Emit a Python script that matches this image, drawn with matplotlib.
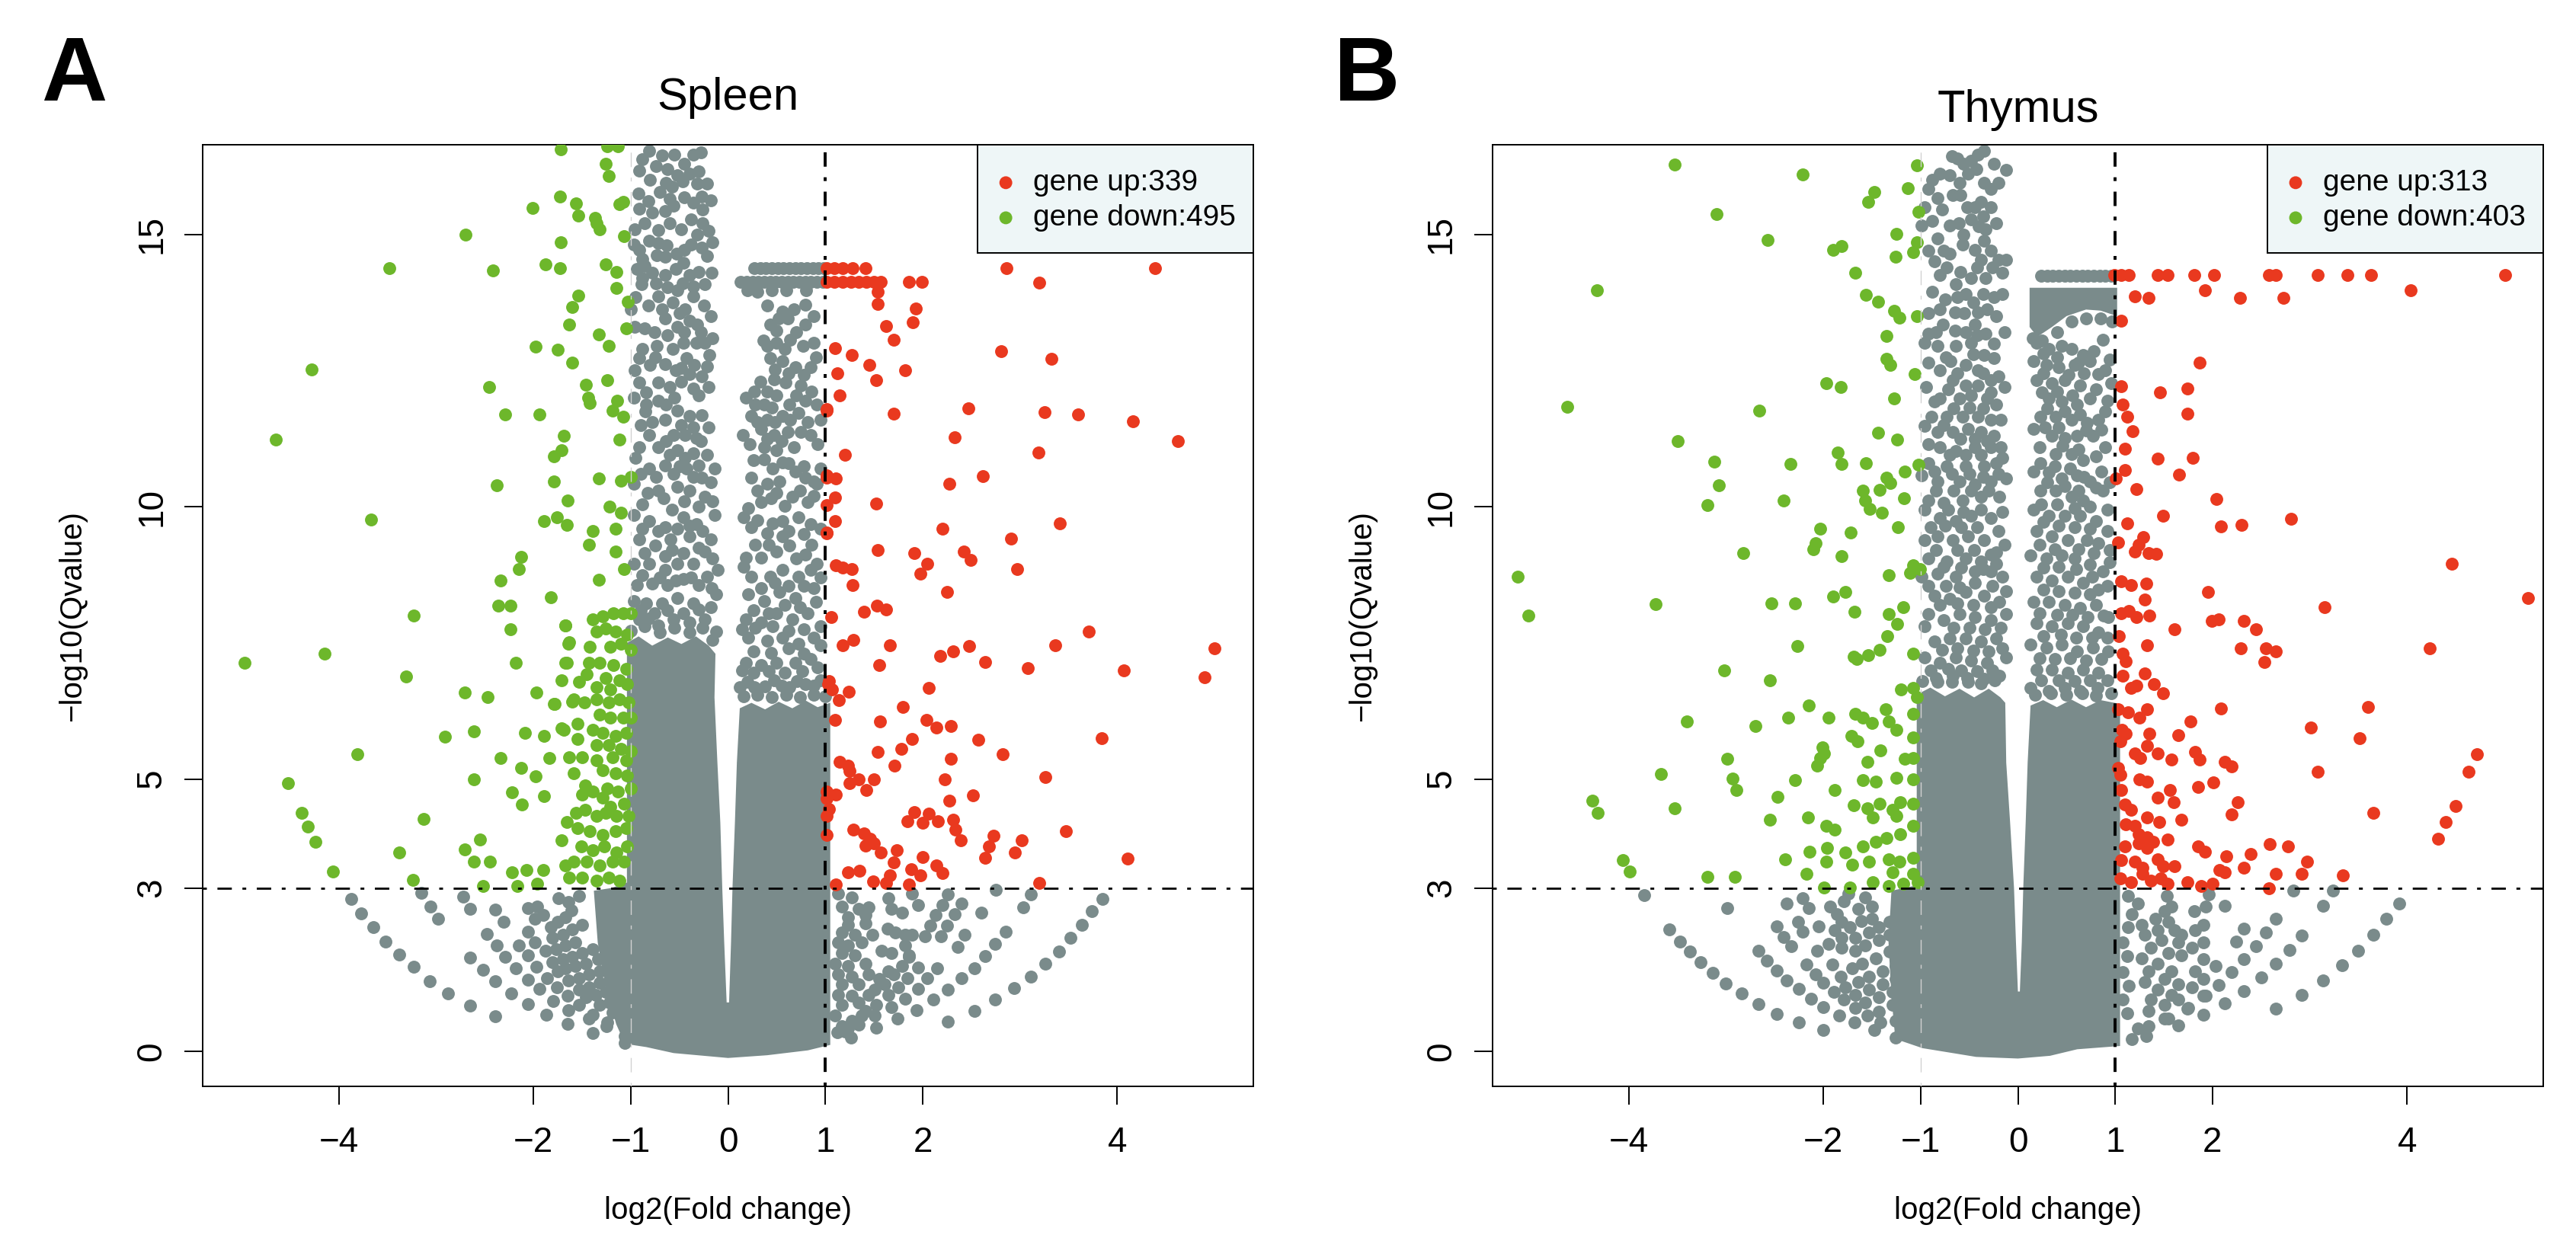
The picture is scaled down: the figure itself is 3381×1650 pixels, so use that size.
import numpy as np
import matplotlib
matplotlib.use('Agg')
import matplotlib.pyplot as plt
from matplotlib.patches import Rectangle

plt.rcParams['font.family'] = ['Liberation Sans', 'DejaVu Sans']
plt.rcParams['lines.scale_dashes'] = False

RED = '#E9391F'
GREEN = '#6DB72B'
GREY = '#7A8B8B'
DOT = 37

# ---------------- Spleen (panel A) ----------------
spleen_counts = (339, 495)

spleen_up = [
    (1.01,14.38),(1.09,14.38),(1.18,14.38),(1.28,14.38),(1.41,14.38),(2.86,14.38),(4.39,14.38),
    (1.01,14.13),(1.09,14.13),(1.18,14.13),(1.26,14.13),(1.34,14.13),(1.42,14.13),(1.50,14.13),
    (1.57,14.13),(1.86,14.13),(1.99,14.13),(3.20,14.12),
    (1.54,13.94),(1.54,13.72),(1.93,13.64),(1.90,13.39),(1.62,13.32),(1.70,13.07),(1.10,12.91),
    (1.27,12.79),(2.81,12.86),(3.32,12.72),(1.45,12.60),(1.12,12.45),(1.52,12.32),(1.82,12.51),
    (1.15,12.04),(1.01,11.79),(1.70,11.71),(2.47,11.80),(3.25,11.73),(3.60,11.70),(4.16,11.57),
    (4.62,11.20),(2.33,11.27),(1.20,10.96),(3.19,10.99),(1.01,10.58),(1.11,10.52),(2.62,10.56),
    (2.27,10.42),(1.10,10.17),(1.01,10.03),(1.52,10.06),(1.10,9.74),(1.01,9.52),(2.20,9.59),
    (3.41,9.69),(2.91,9.42),(1.54,9.21),(1.91,9.15),(2.42,9.18),(2.49,9.03),(2.05,8.96),
    (1.98,8.77),(2.97,8.86),(1.11,8.93),(1.18,8.89),(1.27,8.86),(1.28,8.56),(2.25,8.44),
    (1.53,8.18),(1.62,8.12),(1.40,8.07),(1.06,7.97),(3.71,7.71),(3.36,7.46),(2.48,7.44),
    (2.31,7.34),(2.18,7.26),(5.00,7.40),(1.66,7.46),(1.18,7.46),(1.29,7.56),(1.55,7.09),
    (2.64,7.15),(3.08,7.04),(4.07,7.00),(4.90,6.87),(1.04,6.80),(1.07,6.65),(1.14,6.45),
    (1.24,6.60),(2.06,6.67),(1.80,6.32),(2.04,6.09),(2.14,5.94),(2.29,5.97),(1.56,6.06),
    (1.10,6.09),(3.84,5.75),(2.57,5.72),(1.89,5.73),(1.78,5.55),(2.82,5.45),(2.29,5.38),
    (1.54,5.50),(1.15,5.32),(1.23,5.25),(1.25,5.15),(1.71,5.25),(3.26,5.04),(2.23,4.99),
    (1.34,5.00),(1.25,4.93),(1.50,5.00),(1.42,4.80),(1.11,4.72),(1.01,4.64),(1.04,4.45),
    (2.52,4.70),(2.27,4.61),(1.91,4.39),(2.06,4.36),(1.84,4.22),(2.00,4.20),(2.16,4.23),
    (2.31,4.25),(2.34,4.07),(2.39,3.88),(3.47,4.04),(3.02,3.88),(2.73,3.96),(2.68,3.76),
    (2.95,3.65),(2.64,3.55),(1.40,4.00),(1.46,3.90),(1.41,3.78),(1.50,3.82),(1.29,4.07),
    (1.57,3.65),(1.73,3.69),(1.70,3.47),(2.00,3.57),(2.14,3.42),(2.20,3.28),(4.11,3.54),
    (1.23,3.29),(1.35,3.32),(1.49,3.12),(1.66,3.24),(1.88,3.34),(1.98,3.24),(1.11,3.06),
    (1.86,3.06),(1.62,3.09),(3.20,3.09),(1.01,11.77),(1.01,10.53),(1.01,9.51),(1.03,6.75),
    (1.01,4.77),(1.01,4.32),(1.01,3.98),
]

spleen_down = [
    (-1.72,16.56),(-1.24,16.62),(-1.13,16.62),(-1.26,16.30),(-1.23,16.07),(-1.12,15.56),
    (-1.08,15.60),(-1.73,15.70),(-2.01,15.49),(-1.56,15.57),(-1.54,15.34),(-1.37,15.30),
    (-1.32,15.10),(-1.35,15.20),(-1.07,14.97),(-2.70,15.00),(-1.72,14.85),(-3.48,14.38),
    (-2.42,14.34),(-1.88,14.45),(-1.73,14.38),(-1.26,14.45),(-1.15,14.31),(-1.15,14.01),
    (-1.03,13.76),(-1.60,13.67),(-1.54,13.87),(-1.63,13.35),(-1.33,13.16),(-1.05,13.27),
    (-1.23,12.95),(-1.98,12.94),(-1.75,12.88),(-1.60,12.64),(-4.28,12.52),(-2.46,12.20),
    (-1.46,12.24),(-1.44,12.00),(-1.42,11.90),(-1.24,12.32),(-1.14,11.95),(-2.29,11.70),
    (-1.94,11.70),(-1.19,11.76),(-1.08,11.65),(-1.69,11.30),(-4.65,11.23),(-1.12,11.24),
    (-1.71,11.04),(-1.79,10.92),(-2.38,10.40),(-1.33,10.52),(-1.10,10.48),(-1.00,10.55),
    (-1.79,10.46),(-1.65,10.11),(-1.22,10.00),(-1.10,9.89),(-3.67,9.77),(-1.89,9.74),
    (-1.76,9.81),(-1.66,9.67),(-1.16,9.59),(-1.39,9.55),(-1.43,9.30),(-2.13,9.08),
    (-2.15,8.86),(-1.16,9.18),(-1.07,8.86),(-2.34,8.65),(-1.33,8.66),(-1.82,8.34),
    (-2.36,8.19),(-2.24,8.19),(-3.23,8.00),(-1.67,7.82),(-2.24,7.75),(-1.64,7.48),
    (-4.15,7.31),(-4.97,7.13),(-2.18,7.13),(-1.67,7.14),(-3.31,6.88),(-2.71,6.59),
    (-2.47,6.50),(-1.97,6.59),(-1.78,6.38),(-1.60,6.42),(-1.69,5.90),(-2.91,5.78),
    (-2.61,5.88),(-2.09,5.85),(-1.89,5.79),(-2.34,5.39),(-3.81,5.45),(-1.84,5.39),
    (-2.13,5.20),(-4.52,4.92),(-2.61,5.00),(-1.98,5.05),(-2.22,4.76),(-1.89,4.69),
    (-2.12,4.54),(-4.38,4.38),(-3.13,4.27),(-4.32,4.13),(-4.24,3.85),(-2.55,3.89),
    (-2.71,3.71),(-3.38,3.65),(-2.45,3.48),(-2.61,3.48),(-4.06,3.30),(-2.22,3.29),
    (-2.07,3.33),(-1.90,3.33),(-3.24,3.15),(-2.52,3.04),(-2.17,3.04),(-1.96,3.08),
    (-1.39,7.93),(-1.29,7.99),(-1.18,8.05),(-1.08,8.05),(-1.00,8.05),(-1.67,7.82),
    (-1.35,7.71),(-1.26,7.77),(-1.16,7.71),(-1.04,7.65),(-1.63,7.51),(-1.42,7.43),
    (-1.21,7.43),(-1.10,7.48),(-1.00,7.37),(-1.66,7.14),(-1.43,7.14),(-1.32,7.14),
    (-1.18,7.09),(-1.05,7.03),(-1.45,6.92),(-1.26,6.86),(-1.12,6.81),(-1.04,6.75),
    (-1.71,6.81),(-1.53,6.78),(-1.35,6.69),(-1.21,6.64),(-1.59,6.47),(-1.48,6.41),
    (-1.35,6.47),(-1.23,6.41),(-1.12,6.47),(-1.02,6.41),(-1.79,6.38),(-1.32,6.18),
    (-1.21,6.13),(-1.08,6.13),(-1.00,6.13),(-1.71,5.93),(-1.55,6.02),(-1.39,5.90),
    (-1.29,5.85),(-1.16,5.79),(-1.05,5.85),(-1.55,5.73),(-1.35,5.62),(-1.23,5.62),
    (-1.10,5.56),(-1.00,5.51),(-1.63,5.40),(-1.50,5.40),(-1.35,5.34),(-1.19,5.40),
    (-1.05,5.34),(-1.59,5.11),(-1.29,5.17),(-1.16,5.11),(-1.04,5.06),(-1.47,4.89),
    (-1.39,4.77),(-1.24,4.83),(-1.13,4.77),(-1.00,4.83),(-1.50,4.72),(-1.29,4.66),
    (-1.21,4.49),(-1.07,4.55),(-1.66,4.21),(-1.56,4.38),(-1.47,4.44),(-1.35,4.32),
    (-1.26,4.38),(-1.15,4.32),(-1.02,4.32),(-1.55,4.10),(-1.42,4.04),(-1.29,3.98),
    (-1.16,4.04),(-1.05,4.10),(-1.51,3.76),(-1.39,3.70),(-1.27,3.76),(-1.15,3.65),
    (-1.04,3.76),(-1.59,3.48),(-1.45,3.48),(-1.32,3.42),(-1.19,3.48),(-1.07,3.48),
    (-1.63,3.19),(-1.50,3.19),(-1.35,3.14),(-1.23,3.19),(-1.12,3.14),(-1.67,3.42),
    (-1.71,3.87),
]

spleen_grey = [
    # left column
    (-0.91,16.17),(-0.81,16.53),(-0.74,16.25),(-0.62,16.20),(-0.55,16.47),(-0.36,16.47),
    (-0.70,15.78),(-0.64,15.95),(-0.52,16.08),(-0.40,16.12),(-0.32,15.93),(-0.22,15.93),
    (-0.27,15.70),(-0.82,15.61),(-0.91,15.47),(-0.65,15.43),(-0.56,15.52),(-0.26,15.46),
    (-0.96,15.10),(-0.97,14.82),(-0.91,14.71),(-0.81,14.88),(-0.72,14.84),(-0.65,14.59),
    (-0.73,14.62),(-0.94,14.37),(-0.86,14.42),(-0.88,14.20),(-0.65,14.25),(-0.54,14.37),
    (-0.46,14.48),(-0.38,14.82),(-0.32,14.99),(-0.20,15.07),(-0.27,14.76),(-0.40,14.25),
    (-0.30,14.31),(-0.24,14.09),(-0.52,13.97),(-0.62,14.03),(-0.72,13.86),(-0.89,14.09),
    (-0.44,13.63),(-0.36,13.86),(-0.57,13.75),(-1.00,13.63),(-0.86,13.28),(-0.65,13.46),
    (-0.52,13.30),(-0.40,13.41),(-0.32,13.35),(-0.24,13.01),(-0.19,12.79),(-0.33,13.01),
    (-0.46,13.01),(-0.57,12.90),(-0.73,12.96),(-0.88,12.90),(-0.91,12.73),(-0.65,12.62),
    (-0.54,12.51),(-0.72,12.28),(-0.91,12.28),(-0.40,12.43),(-0.27,12.39),(-0.43,12.73),
    (-0.36,12.17),(-0.97,12.00),(-0.84,11.88),(-0.72,11.94),(-0.64,11.88),(-0.52,11.77),
    (-0.40,11.66),(-0.27,11.68),(-0.65,11.60),(-0.56,11.32),(-0.44,11.32),(-0.33,11.26),
    (-0.81,11.32),(-0.91,11.09),(-0.72,11.09),(-0.52,11.04),(-0.36,10.98),(-0.14,10.70),
    (-0.81,10.70),(-0.65,10.76),(-0.43,10.70),(-0.30,10.76),(-0.27,10.53),(-0.97,10.42),
    (-0.83,10.25),(-0.72,10.30),(-0.52,10.36),(-0.40,10.30),(-0.24,10.19),(-0.97,9.85),
    (-0.81,9.74),(-0.65,9.63),(-0.46,9.80),(-0.33,9.68),(-0.14,9.85),(-0.91,9.40),
    (-0.75,9.29),(-0.59,9.40),(-0.40,9.46),(-0.24,9.18),(-0.97,8.95),(-0.81,8.95),
    (-0.65,8.84),(-0.52,8.95),(-0.36,8.95),(-0.11,8.84),(-0.94,8.56),(-0.78,8.59),
    (-0.62,8.56),(-0.46,8.67),(-0.30,8.56),(-0.17,8.50),(-0.97,8.27),(-0.84,8.22),
    (-0.68,8.22),(-0.52,8.33),(-0.36,8.22),(-0.91,7.93),(-0.72,7.82),(-0.56,7.93),
    (-0.40,7.88),(-0.24,7.93),(-0.12,7.71),
    (-1.00,7.72),(-0.86,7.80),(-0.70,7.70),(-0.55,7.78),(-0.40,7.70),(-0.26,7.78),(-0.16,7.55),
    (-0.88,16.38),(-0.68,16.45),(-0.45,16.30),(-0.28,16.50),(-0.80,16.00),(-0.58,15.88),
    (-0.47,15.98),(-0.30,16.15),(-0.92,15.75),(-0.78,15.40),(-0.60,15.65),(-0.45,15.68),
    (-0.36,15.58),(-0.18,15.62),(-0.86,15.20),(-0.72,15.08),(-0.60,15.20),(-0.48,15.10),
    (-0.38,15.28),(-0.26,15.20),(-0.88,14.55),(-0.63,14.80),(-0.53,14.65),(-0.45,14.72),
    (-0.22,14.60),(-0.16,14.85),(-0.78,14.30),(-0.74,14.10),(-0.47,14.10),(-0.36,14.05),
    (-0.17,14.30),(-0.95,13.85),(-0.82,13.70),(-0.68,13.62),(-0.50,13.55),(-0.25,13.70),
    (-0.18,13.50),(-0.96,13.30),(-0.76,13.20),(-0.62,13.15),(-0.45,13.20),(-0.28,13.20),
    (-0.16,13.10),(-0.80,12.60),(-0.75,12.75),(-0.48,12.55),(-0.35,12.60),(-0.22,12.58),
    (-0.96,12.50),(-0.84,12.10),(-0.60,12.20),(-0.48,12.30),(-0.30,12.05),(-0.20,12.20),
    (-0.55,12.00),(-0.90,11.50),(-0.78,11.55),(-0.48,11.50),(-0.36,11.45),(-0.20,11.45),
    (-0.85,11.75),(-0.95,10.90),(-0.64,11.20),(-0.60,10.95),(-0.44,10.90),(-0.22,10.95),
    (-0.28,11.20),(-0.90,10.60),(-0.74,10.55),(-0.56,10.60),(-0.36,10.55),(-0.18,10.45),
    (-0.50,10.75),(-0.88,10.05),(-0.66,10.15),(-0.58,9.95),(-0.30,10.00),(-0.16,10.10),
    (-0.45,10.10),(-0.88,9.60),(-0.72,9.55),(-0.52,9.60),(-0.26,9.55),(-0.18,9.40),
    (-0.40,9.65),(-0.86,9.15),(-0.65,9.10),(-0.46,9.15),(-0.30,9.25),(-0.16,9.05),
    (-0.58,9.20),(-0.88,8.75),(-0.70,8.70),(-0.54,8.65),(-0.38,8.70),(-0.22,8.72),
    (-0.12,8.40),(-0.90,8.10),(-0.76,8.05),(-0.62,8.10),(-0.46,8.05),(-0.30,8.12),
    (-0.18,8.15),(-0.82,7.95),
    # right column: two flat rows at the top
    (0.27,14.38),(0.33,14.38),(0.39,14.38),(0.45,14.38),(0.51,14.38),(0.57,14.38),(0.63,14.38),
    (0.69,14.38),(0.75,14.38),(0.81,14.38),(0.87,14.38),(0.93,14.38),(0.98,14.38),
    (0.13,14.13),(0.19,14.13),(0.25,14.13),(0.31,14.13),(0.37,14.13),(0.43,14.13),(0.49,14.13),
    (0.55,14.13),(0.61,14.13),(0.67,14.13),(0.73,14.13),(0.79,14.13),(0.85,14.13),(0.91,14.13),
    (0.97,14.13),(0.20,13.98),(0.30,13.95),(0.45,13.98),(0.60,13.97),(0.80,13.98),
    (0.79,13.71),(0.40,13.69),(0.56,13.58),(0.43,13.35),(0.50,13.24),(0.61,13.46),(0.79,13.35),
    (0.40,12.96),(0.50,13.01),(0.64,13.07),(0.77,12.96),(0.88,13.01),(0.43,12.73),(0.56,12.67),
    (0.69,12.56),(0.85,12.56),(0.47,12.34),(0.59,12.28),(0.75,12.22),(0.40,12.11),(0.18,12.00),
    (0.27,12.11),(0.37,11.88),(0.50,12.05),(0.63,11.88),(0.79,11.94),(0.91,11.88),(0.24,11.66),
    (0.40,11.60),(0.56,11.66),(0.72,11.72),(0.15,11.32),(0.34,11.43),(0.47,11.32),(0.61,11.38),
    (0.75,11.38),(0.85,11.32),(0.37,11.09),(0.50,11.04),(0.56,10.81),(0.37,10.87),(0.69,10.64),
    (0.79,10.53),(0.24,10.53),(0.40,10.42),(0.53,10.47),(0.88,10.47),(0.21,9.97),(0.34,10.08),
    (0.50,10.25),(0.66,10.19),(0.82,10.08),(0.91,10.42),(0.24,9.63),(0.40,9.51),(0.56,9.74),
    (0.72,9.80),(0.85,9.68),(0.18,9.06),(0.34,9.06),(0.50,9.18),(0.63,9.29),(0.79,9.12),
    (0.91,8.95),(0.24,8.72),(0.43,8.72),(0.56,8.84),(0.72,8.72),(0.85,8.84),(0.21,8.39),
    (0.37,8.27),(0.53,8.44),(0.69,8.33),(0.88,8.50),(0.18,7.93),(0.34,7.88),(0.50,8.05),
    (0.66,7.93),(0.82,8.05),(0.21,7.60),(0.40,7.54),(0.56,7.60),(0.72,7.48),(0.88,7.60),
    (0.18,7.14),(0.34,7.09),(0.50,7.14),(0.69,7.14),(0.85,7.20),(0.12,6.69),(0.27,6.69),
    (0.47,6.81),(0.63,6.69),(0.79,6.75),(0.95,6.81),
    (0.16,6.52),(0.30,6.55),(0.45,6.50),(0.60,6.55),(0.74,6.50),(0.88,6.55),(1.00,6.52),
    (0.68,13.62),(0.88,13.50),(0.52,13.45),(0.70,13.20),(0.36,13.05),(0.58,12.90),(0.90,12.75),
    (0.48,12.52),(0.62,12.45),(0.78,12.42),(0.33,12.30),(0.28,11.88),(0.45,11.82),(0.70,12.05),
    (0.86,12.12),(0.30,11.55),(0.48,11.55),(0.64,11.60),(0.82,11.55),(0.95,11.60),(0.22,11.15),
    (0.40,11.25),(0.55,11.20),(0.68,11.10),(0.92,11.15),(0.26,10.85),(0.46,10.70),(0.62,10.80),
    (0.78,10.75),(0.95,10.70),(0.30,10.30),(0.44,10.15),(0.58,10.02),(0.74,10.30),(0.88,10.20),
    (0.16,9.80),(0.30,9.75),(0.46,9.70),(0.62,9.55),(0.78,9.50),(0.95,9.60),(0.28,9.30),
    (0.42,9.30),(0.56,9.45),(0.70,9.05),(0.86,9.30),(0.16,8.90),(0.34,8.50),(0.48,8.60),
    (0.62,8.55),(0.78,8.55),(0.95,8.70),(0.26,8.10),(0.42,8.05),(0.58,8.20),(0.74,8.15),
    (0.90,8.25),(0.14,7.75),(0.28,7.78),(0.46,7.80),(0.62,7.72),(0.78,7.75),(0.95,7.80),
    (0.26,7.35),(0.44,7.32),(0.62,7.40),(0.78,7.30),(0.95,7.45),(0.14,7.00),(0.26,6.95),
    (0.42,6.98),(0.58,6.95),(0.76,6.98),(0.92,7.05),(0.20,6.78),(0.38,6.70),(0.55,6.72),
    (0.71,6.80),(0.88,6.72),
    # bottom-left arcs
    (-3.87,2.80),(-3.77,2.53),(-3.65,2.28),(-3.52,2.02),(-3.38,1.78),(-3.23,1.55),(-3.07,1.29),
    (-2.88,1.07),(-2.65,0.84),(-2.39,0.64),(-3.15,2.91),(-3.06,2.66),(-2.98,2.43),(-2.65,1.72),
    (-2.52,1.50),(-2.39,1.29),(-2.23,1.07),(-2.06,0.87),(-1.87,0.67),(-1.65,0.51),(-1.39,0.34),
    (-1.06,0.15),(-2.72,2.84),(-2.65,2.62),(-2.39,2.60),(-2.31,2.38),(-2.48,2.15),(-2.38,1.95),
    (-2.29,1.73),(-2.18,1.53),(-2.06,1.32),(-1.94,1.15),(-1.80,0.93),(-1.64,0.76),(-1.43,0.61),
    (-1.25,0.47),(-1.06,0.28),(-2.06,2.63),(-1.96,2.66),(-1.99,2.43),(-1.90,2.50),(-2.06,2.20),
    (-1.99,2.00),(-2.15,1.95),(-2.06,1.76),(-1.97,1.56),(-1.86,1.35),(-1.76,1.18),(-1.65,1.02),
    (-1.53,0.85),(-1.39,0.68),(-1.24,0.54),(-1.82,2.28),(-1.75,2.38),(-1.67,2.47),(-1.74,2.81),
    (-1.64,2.74),(-1.61,2.59),(-1.53,2.86),(-1.81,2.09),(-1.70,2.14),(-1.60,2.24),(-1.50,2.33),
    (-1.88,1.85),(-1.77,1.88),(-1.67,1.95),(-1.57,2.00),(-1.81,1.64),(-1.70,1.69),(-1.60,1.73),
    (-1.50,1.81),(-1.39,1.88),(-1.75,1.47),(-1.67,1.52),(-1.57,1.57),(-1.46,1.61),(-1.34,1.69),
    (-1.64,1.30),(-1.53,1.35),(-1.43,1.42),(-1.32,1.47),(-1.53,1.14),(-1.43,1.18),(-1.32,1.26),
    (-1.46,0.99),(-1.36,1.04),(-1.26,1.09),(-1.32,0.85),(-1.22,0.90),(-1.15,0.99),(-1.19,0.71),
    (-1.12,0.75),
    # bottom-right arcs
    (3.85,2.80),(3.74,2.57),(3.64,2.32),(3.52,2.08),(3.40,1.84),(3.26,1.61),(3.11,1.38),
    (2.94,1.16),(2.74,0.95),(2.53,0.74),(2.26,0.55),(3.11,2.88),(3.03,2.64),(2.85,2.20),
    (2.74,1.97),(2.64,1.75),(2.53,1.53),(2.40,1.34),(2.26,1.14),(2.11,0.95),(1.94,0.76),
    (1.74,0.60),(1.52,0.43),(1.26,0.26),(2.75,2.97),(2.60,2.55),(2.43,2.14),(2.36,1.92),
    (2.15,1.53),(2.05,1.34),(1.95,1.15),(1.82,0.97),(1.68,0.81),(1.51,0.66),(1.34,0.49),
    (1.12,0.35),(2.26,2.88),(2.20,2.69),(2.40,2.71),(2.33,2.52),(2.13,2.50),(2.25,2.31),
    (2.08,2.31),(2.19,2.12),(2.02,2.12),(1.95,1.54),(1.86,1.73),(1.79,1.57),(1.84,1.35),
    (1.75,1.18),(1.65,1.04),(1.52,0.85),(1.41,0.75),(1.27,0.56),(1.89,2.90),(1.95,2.69),
    (1.79,2.55),(1.65,2.81),(1.68,2.62),(1.64,2.26),(1.72,2.19),(1.82,2.14),(1.89,2.14),
    (1.82,1.95),(1.58,1.85),(1.68,1.81),(1.86,1.76),(1.65,1.47),(1.55,1.33),(1.70,1.42),
    (1.61,1.23),(1.51,1.14),(1.44,1.04),(1.34,0.90),(1.37,0.66),(1.23,0.42),(1.13,2.90),
    (1.27,2.83),(1.17,2.66),(1.34,2.62),(1.44,2.64),(1.23,2.47),(1.41,2.50),(1.23,2.33),
    (1.41,2.35),(1.17,2.19),(1.30,2.14),(1.48,2.14),(1.13,2.00),(1.23,1.95),(1.37,2.00),
    (1.17,1.81),(1.30,1.76),(1.10,1.61),(1.23,1.57),(1.41,1.61),(1.13,1.42),(1.27,1.38),
    (1.44,1.42),(1.17,1.23),(1.34,1.23),(1.13,1.04),(1.27,1.02),(1.17,0.85),(1.10,0.66),
    (1.17,0.47),(1.20,0.37),
]

# outline of the solid grey mass in the middle
spleen_core = [
    (-1.04,7.50),(-0.92,7.62),(-0.78,7.45),(-0.62,7.60),(-0.48,7.48),(-0.33,7.62),(-0.20,7.45),
    (-0.13,7.30),(-0.14,6.50),(-0.11,5.30),(-0.08,4.20),(-0.06,3.00),(-0.04,2.00),(-0.015,0.90),
    (0.01,0.90),(0.03,2.00),(0.045,3.00),(0.07,4.20),(0.09,5.30),(0.12,6.30),(0.24,6.40),
    (0.38,6.28),(0.52,6.42),(0.66,6.30),(0.80,6.44),(0.92,6.32),(1.05,6.40),(1.05,0.12),
    (0.82,0.02),(0.40,-0.07),(0.00,-0.12),(-0.56,-0.03),(-0.84,0.08),(-1.06,0.14),(-1.15,0.50),
    (-1.26,1.20),(-1.34,2.00),(-1.38,2.95),(-1.20,3.00),(-1.04,3.10),
]
spleen_blocks = []

# ---------------- Thymus (panel B) ----------------
thymus_counts = (313, 403)

thymus_up = [
    (0.99,14.26),(1.06,14.26),(1.14,14.26),(1.44,14.26),(1.54,14.26),(1.81,14.26),(2.02,14.26),
    (2.58,14.26),(2.65,14.26),(3.08,14.26),(3.39,14.26),(3.63,14.26),(5.01,14.26),
    (1.92,13.98),(1.20,13.86),(1.34,13.84),(2.28,13.84),(2.73,13.84),(4.04,13.98),(1.06,13.41),
    (1.87,12.64),(1.06,12.21),(1.08,11.88),(1.12,11.65),(1.46,12.10),(1.74,12.17),(1.74,11.71),
    (1.18,11.39),(1.10,11.07),(1.44,10.89),(1.80,10.90),(1.10,10.68),(1.66,10.59),(1.01,10.52),
    (1.22,10.33),(2.04,10.14),(1.49,9.84),(2.81,9.78),(2.09,9.64),(2.30,9.67),(1.12,9.70),
    (1.29,9.44),(1.03,9.34),(1.24,9.30),(1.20,9.18),(1.34,9.15),(1.42,9.13),(4.46,8.96),
    (1.06,8.63),(1.16,8.56),(1.32,8.59),(1.95,8.44),(1.30,8.30),(5.24,8.32),(3.15,8.16),
    (1.06,8.04),(1.14,8.09),(1.22,7.97),(1.35,8.00),(1.99,7.90),(2.06,7.93),(2.32,7.90),
    (2.45,7.75),(1.61,7.75),(1.04,7.63),(1.33,7.46),(2.29,7.40),(2.55,7.40),(2.65,7.35),
    (4.23,7.40),(2.53,7.15),(1.08,7.31),(1.11,7.16),(1.30,6.94),(1.08,6.90),(1.40,6.75),
    (1.16,6.67),(1.22,6.72),(1.49,6.57),(3.60,6.32),(2.09,6.29),(1.03,6.28),(1.13,6.23),
    (1.33,6.28),(1.25,6.13),(1.77,6.06),(1.65,5.81),(3.01,5.95),(1.07,5.91),(1.11,5.83),
    (1.05,5.69),(1.35,5.83),(1.33,5.61),(3.51,5.75),(1.20,5.47),(1.26,5.39),(1.44,5.47),
    (1.82,5.50),(1.87,5.36),(4.72,5.45),(1.58,5.36),(2.13,5.32),(2.20,5.23),(1.03,5.20),
    (1.05,5.08),(4.63,5.14),(3.08,5.13),(1.25,5.00),(1.33,4.95),(2.01,4.94),(1.85,4.85),
    (1.56,4.80),(1.06,4.80),(1.44,4.66),(1.60,4.58),(2.26,4.58),(1.10,4.54),(1.16,4.43),
    (4.50,4.51),(1.68,4.26),(3.65,4.38),(2.20,4.35),(1.33,4.29),(1.45,4.21),(4.40,4.21),
    (1.11,4.17),(1.20,4.14),(1.24,3.99),(1.33,3.93),(4.32,3.90),(1.54,3.89),(2.59,3.80),
    (2.78,3.77),(1.85,3.77),(1.92,3.67),(2.14,3.58),(2.39,3.62),(2.97,3.48),(2.32,3.37),
    (1.61,3.40),(2.07,3.33),(2.13,3.29),(2.65,3.26),(2.92,3.26),(3.34,3.23),(2.58,2.99),
    (1.10,3.77),(1.24,3.82),(1.39,3.85),(1.33,3.73),(1.06,3.51),(1.20,3.48),(1.28,3.37),
    (1.44,3.52),(1.49,3.40),(1.05,3.18),(1.16,3.11),(1.28,3.26),(1.37,3.14),(1.47,3.18),
    (1.54,3.08),(1.74,3.11),(1.88,3.04),(2.00,3.08),
]

thymus_down = [
    (-3.53,16.28),(-2.21,16.10),(-1.04,16.27),(-1.13,15.85),(-1.48,15.78),(-1.54,15.59),
    (-1.02,15.41),(-3.10,15.37),(-2.57,14.90),(-1.81,14.79),(-1.90,14.72),(-1.25,15.01),
    (-1.04,14.85),(-1.08,14.67),(-1.26,14.59),(-1.67,14.29),(-4.33,13.98),(-1.56,13.89),
    (-1.44,13.76),(-1.27,13.60),(-1.22,13.47),(-1.04,13.50),(-1.35,13.13),(-1.35,12.72),
    (-1.31,12.61),(-1.06,12.44),(-1.97,12.27),(-1.82,12.20),(-4.63,11.83),(-1.27,11.99),
    (-2.66,11.77),(-1.44,11.36),(-1.24,11.23),(-3.50,11.20),(-1.85,10.99),(-3.12,10.83),
    (-2.34,10.79),(-1.81,10.79),(-1.56,10.80),(-1.02,10.77),(-1.16,10.64),(-3.07,10.39),
    (-1.35,10.54),(-1.31,10.43),(-1.59,10.30),(-1.57,10.11),(-1.42,10.31),(-1.40,9.89),
    (-1.17,10.15),(-3.19,10.03),(-2.41,10.11),(-1.52,9.96),(-2.03,9.59),(-1.72,9.52),
    (-1.23,9.62),(-2.08,9.33),(-2.10,9.22),(-2.82,9.15),(-1.81,9.09),(-1.08,8.93),
    (-1.01,8.86),(-1.11,8.78),(-5.14,8.71),(-1.33,8.75),(-1.90,8.35),(-1.77,8.44),
    (-2.53,8.22),(-2.29,8.22),(-3.72,8.21),(-1.18,8.16),(-1.68,8.07),(-5.03,8.00),
    (-1.33,8.03),(-1.24,7.85),(-1.34,7.63),(-2.27,7.44),(-1.69,7.25),(-1.66,7.21),
    (-1.54,7.28),(-1.42,7.38),(-1.08,7.31),(-3.02,7.00),(-2.55,6.82),(-1.20,6.65),
    (-1.08,6.67),(-1.04,6.50),(-2.15,6.35),(-1.59,6.13),(-1.67,6.20),(-2.36,6.13),
    (-1.95,6.13),(-3.40,6.06),(-2.70,5.98),(-1.71,5.79),(-1.65,5.69),(-2.01,5.58),
    (-1.99,5.47),(-2.03,5.39),(-2.99,5.38),(-2.06,5.25),(-3.67,5.10),(-2.93,5.01),
    (-2.29,4.98),(-2.89,4.80),(-1.88,4.80),(-4.37,4.60),(-2.47,4.67),(-4.32,4.38),
    (-3.53,4.46),(-2.55,4.26),(-2.16,4.29),(-1.97,4.14),(-1.88,4.07),(-2.14,3.67),
    (-2.39,3.52),(-1.97,3.48),(-1.70,3.43),(-1.53,3.48),(-4.06,3.51),(-3.99,3.30),
    (-2.17,3.26),(-2.91,3.21),(-3.19,3.21),(-1.99,3.01),(-1.73,3.01),
    (-1.69,4.52),(-1.55,4.46),(-1.42,4.55),(-1.29,4.43),(-1.21,4.58),(-1.08,4.55),
    (-1.49,4.29),(-1.25,4.32),(-1.08,4.14),(-1.35,3.92),(-1.21,3.99),(-1.96,3.73),
    (-1.77,3.65),(-1.59,3.77),(-1.46,3.85),(-1.33,3.52),(-1.22,3.48),(-1.08,3.55),
    (-1.29,3.29),(-1.08,3.26),(-1.49,3.11),(-1.33,3.04),(-1.18,3.08),(-1.03,3.11),
    (-1.59,4.98),(-1.46,4.95),(-1.25,5.02),(-1.08,4.99),(-1.41,5.53),(-1.16,5.38),
    (-1.55,5.32),(-1.08,5.39),(-1.50,6.03),(-1.33,6.06),(-1.25,5.91),(-1.08,5.76),
    (-1.36,6.28),(-1.08,6.20),
]

thymus_grey = [
    # left column
    (-0.68,16.43),(-0.80,16.12),(-0.70,16.09),(-0.56,16.29),(-0.41,16.46),(-0.35,16.54),
    (-0.51,16.12),(-0.43,16.20),(-0.12,16.18),(-0.28,15.84),(-0.20,15.95),(-0.92,15.84),
    (-0.83,15.67),(-0.67,15.72),(-0.59,15.72),(-0.96,15.50),(-0.44,15.50),(-0.38,15.59),
    (-0.48,15.27),(-0.36,15.33),(-0.99,15.16),(-0.70,15.16),(-0.61,15.21),(-0.33,15.10),
    (-0.83,14.93),(-0.57,14.82),(-0.35,14.88),(-0.44,14.71),(-0.70,14.65),(-0.86,14.50),
    (-0.73,14.39),(-0.59,14.31),(-0.38,14.54),(-0.20,14.54),(-0.12,14.54),(-0.48,14.20),
    (-0.33,14.20),(-0.64,14.08),(-0.16,13.91),(-0.75,13.80),(-0.54,13.91),(-0.36,13.91),
    (-0.80,13.63),(-0.65,13.57),(-0.41,13.57),(-0.32,13.63),(-0.77,13.35),(-0.44,13.35),
    (-0.92,13.18),(-0.65,13.24),(-0.33,13.18),(-0.14,13.21),(-0.96,13.01),(-0.83,12.95),
    (-0.64,12.95),(-0.48,13.01),(-0.35,12.78),(-0.25,12.73),(-0.69,12.67),(-0.54,12.61),
    (-0.80,12.50),(-0.41,12.50),(-0.28,12.33),(-0.20,12.39),(-0.67,12.33),(-0.54,12.22),
    (-0.41,12.22),(-0.80,11.99),(-0.60,11.99),(-0.48,12.05),(-0.32,11.99),(-0.22,11.88),
    (-0.86,11.93),(-0.89,11.65),(-0.73,11.65),(-0.57,11.65),(-0.41,11.65),(-0.28,11.59),
    (-0.96,11.48),(-0.83,11.37),(-0.67,11.37),(-0.51,11.43),(-0.38,11.37),(-0.25,11.31),
    (-0.80,11.09),(-0.64,11.03),(-0.44,11.09),(-0.28,11.09),(-0.92,10.80),(-0.73,10.75),
    (-0.54,10.75),(-0.35,10.75),(-0.22,10.80),(-0.99,10.58),(-0.83,10.46),(-0.60,10.46),
    (-0.44,10.41),(-0.28,10.46),(-0.12,10.52),(-0.92,10.12),(-0.76,10.07),(-0.57,10.12),
    (-0.38,10.18),(-0.19,10.18),(-0.80,9.79),(-0.64,9.73),(-0.48,9.84),(-0.28,9.79),
    (-0.96,9.39),(-0.83,9.45),(-0.67,9.39),(-0.51,9.45),(-0.35,9.39),(-0.22,9.16),
    (-0.92,9.05),(-0.73,8.99),(-0.54,9.05),(-0.38,8.99),(-0.99,8.71),(-0.83,8.77),
    (-0.64,8.71),(-0.44,8.82),(-0.28,8.82),(-0.16,8.71),(-0.86,8.37),(-0.70,8.31),
    (-0.54,8.43),(-0.35,8.37),(-0.19,8.26),(-0.92,8.03),(-0.76,7.92),(-0.60,8.03),
    (-0.44,7.98),(-0.28,7.92),(-0.12,8.03),(-0.86,7.52),(-0.70,7.58),(-0.54,7.58),
    (-0.38,7.52),(-0.22,7.58),(-0.96,7.24),(-0.80,7.13),(-0.64,7.24),(-0.48,7.18),
    (-0.32,7.13),(-0.12,7.24),(-0.83,6.79),(-0.67,6.90),(-0.51,6.79),(-0.35,6.84),
    (-0.19,6.90),
    (-0.98,6.80),(-0.84,6.86),(-0.68,6.78),(-0.52,6.85),(-0.38,6.76),(-0.24,6.82),
    (-0.62,16.40),(-0.48,16.35),(-0.25,16.30),(-0.88,16.00),(-0.60,15.95),(-0.35,15.95),
    (-0.78,15.45),(-0.52,15.50),(-0.28,15.50),(-0.88,15.25),(-0.56,15.00),(-0.40,15.15),
    (-0.22,15.20),(-0.92,14.70),(-0.76,14.70),(-0.28,14.70),(-0.16,14.30),(-0.80,14.25),
    (-0.42,14.40),(-0.26,14.40),(-0.88,13.95),(-0.62,13.85),(-0.46,13.75),(-0.25,13.85),
    (-0.92,13.55),(-0.55,13.55),(-0.22,13.50),(-0.84,13.20),(-0.54,13.20),(-0.42,13.15),
    (-0.25,13.00),(-0.74,12.75),(-0.46,12.80),(-0.92,12.65),(-0.36,12.45),(-0.62,12.45),
    (-0.94,12.20),(-0.72,12.15),(-0.28,12.10),(-0.14,12.20),(-0.66,11.80),(-0.50,11.82),
    (-0.36,11.80),(-0.18,11.60),(-0.76,11.50),(-0.59,11.25),(-0.44,11.25),(-0.32,11.20),
    (-0.18,11.10),(-0.92,11.15),(-0.70,10.95),(-0.54,10.95),(-0.38,10.95),(-0.16,10.90),
    (-0.86,10.65),(-0.68,10.60),(-0.50,10.60),(-0.36,10.55),(-0.20,10.60),(-0.84,10.30),
    (-0.66,10.30),(-0.48,10.30),(-0.30,10.30),(-0.96,9.95),(-0.72,9.95),(-0.56,9.90),
    (-0.38,9.95),(-0.16,9.90),(-0.90,9.62),(-0.75,9.65),(-0.58,9.62),(-0.42,9.62),
    (-0.20,9.55),(-0.84,9.20),(-0.62,9.20),(-0.45,9.20),(-0.28,9.12),(-0.14,9.30),
    (-0.76,8.90),(-0.58,8.88),(-0.36,8.85),(-0.22,8.95),(-0.92,8.55),(-0.74,8.55),
    (-0.60,8.52),(-0.44,8.60),(-0.26,8.55),(-0.12,8.45),(-0.80,8.20),(-0.62,8.22),
    (-0.46,8.20),(-0.28,8.15),(-0.96,7.80),(-0.66,7.78),(-0.50,7.78),(-0.34,7.75),
    (-0.18,7.78),(-0.78,7.38),(-0.62,7.40),(-0.46,7.36),(-0.30,7.34),(-0.16,7.40),
    (-0.90,7.00),(-0.72,7.02),(-0.58,7.00),(-0.42,6.98),(-0.26,7.00),
    # right column: flat row at the top and points under the dense block
    (0.24,14.24),(0.30,14.24),(0.36,14.24),(0.42,14.24),(0.48,14.24),(0.54,14.24),(0.60,14.24),
    (0.66,14.24),(0.72,14.24),(0.78,14.24),(0.84,14.24),(0.90,14.24),(0.96,14.24),
    (0.15,13.10),(0.25,13.05),(0.40,13.20),(0.55,13.40),(0.70,13.45),(0.85,13.45),(0.97,13.40),
    (0.19,13.01),(0.32,12.90),(0.45,12.95),(0.55,12.90),(0.67,12.78),(0.87,13.07),(0.16,12.67),
    (0.29,12.61),(0.42,12.56),(0.58,12.61),(0.74,12.67),(0.83,12.44),(0.19,12.33),(0.35,12.27),
    (0.48,12.33),(0.64,12.22),(0.96,12.27),(0.32,11.99),(0.45,11.93),(0.61,11.88),(0.74,11.99),
    (0.23,11.65),(0.39,11.65),(0.55,11.59),(0.71,11.54),(0.83,11.59),(0.16,11.43),(0.35,11.31),
    (0.48,11.26),(0.61,11.31),(0.77,11.31),(0.39,10.97),(0.55,10.97),(0.67,10.86),(0.80,10.92),
    (0.23,10.80),(0.32,10.63),(0.45,10.52),(0.61,10.58),(0.74,10.46),(0.23,10.29),(0.39,10.29),
    (0.55,10.18),(0.67,10.12),(0.87,10.29),(0.16,9.95),(0.32,9.84),(0.48,9.84),(0.64,9.84),
    (0.80,9.73),(0.19,9.56),(0.35,9.45),(0.51,9.39),(0.71,9.39),(0.83,9.33),(0.13,9.11),
    (0.29,9.05),(0.45,9.11),(0.58,9.05),(0.74,8.94),(0.87,8.82),(0.19,8.71),(0.35,8.65),
    (0.51,8.71),(0.67,8.60),(0.83,8.48),(0.16,8.26),(0.32,8.26),(0.48,8.20),(0.64,8.14),
    (0.80,8.20),(0.93,7.98),(0.19,7.86),(0.35,7.81),(0.51,7.86),(0.67,7.81),(0.83,7.69),
    (0.13,7.47),(0.29,7.41),(0.45,7.47),(0.61,7.35),(0.77,7.41),(0.93,7.35),(0.19,7.01),
    (0.35,7.01),(0.51,6.96),(0.67,7.01),(0.83,6.96),(0.13,6.67),(0.32,6.62),(0.48,6.67),
    (0.64,6.62),(0.82,6.67),
    (0.18,6.55),(0.34,6.58),(0.50,6.55),(0.66,6.58),(0.80,6.54),(0.96,6.58),
    (0.26,12.82),(0.40,12.75),(0.62,12.65),(0.78,12.85),(0.94,12.70),(0.26,12.45),(0.52,12.42),
    (0.68,12.45),(0.90,12.50),(0.25,12.10),(0.40,12.12),(0.56,12.05),(0.80,12.15),(0.92,11.95),
    (0.30,11.80),(0.48,11.75),(0.64,11.70),(0.90,11.75),(0.28,11.45),(0.42,11.45),(0.70,11.40),
    (0.86,11.42),(0.22,11.10),(0.46,11.12),(0.62,11.05),(0.90,11.10),(0.16,10.65),(0.38,10.75),
    (0.54,10.70),(0.68,10.55),(0.86,10.65),(0.30,10.45),(0.48,10.38),(0.62,10.30),(0.80,10.35),
    (0.94,10.45),(0.24,10.05),(0.40,10.05),(0.58,9.98),(0.74,10.00),(0.92,9.95),(0.26,9.72),
    (0.42,9.65),(0.58,9.62),(0.74,9.60),(0.92,9.55),(0.22,9.30),(0.38,9.22),(0.62,9.22),
    (0.78,9.15),(0.94,9.20),(0.26,8.88),(0.42,8.90),(0.60,8.85),(0.76,8.72),(0.94,8.98),
    (0.26,8.48),(0.42,8.45),(0.58,8.42),(0.74,8.40),(0.92,8.55),(0.22,8.05),(0.40,8.02),
    (0.56,8.02),(0.72,7.98),(0.88,8.00),(0.26,7.62),(0.44,7.65),(0.60,7.60),(0.76,7.60),
    (0.92,7.60),(0.22,7.22),(0.38,7.20),(0.54,7.22),(0.70,7.18),(0.86,7.20),(0.24,6.82),
    (0.42,6.82),(0.58,6.80),(0.74,6.82),(0.92,6.82),
    # bottom-left arcs
    (-3.84,2.87),(-3.58,2.24),(-3.47,2.02),(-3.37,1.83),(-3.26,1.64),(-3.14,1.44),(-3.00,1.25),
    (-2.84,1.06),(-2.67,0.87),(-2.48,0.69),(-2.25,0.53),(-2.00,0.39),(-2.99,2.63),(-2.67,1.85),
    (-2.58,1.67),(-2.48,1.49),(-2.38,1.31),(-2.25,1.15),(-2.13,0.97),(-2.00,0.81),(-1.84,0.66),
    (-1.68,0.53),(-1.48,0.39),(-1.26,0.25),(-2.38,2.72),(-2.21,2.81),(-2.15,2.63),(-2.48,2.29),
    (-2.26,2.38),(-2.21,2.20),(-2.05,2.29),(-2.41,2.10),(-2.33,1.93),(-2.06,1.85),(-2.17,1.59),
    (-2.08,1.42),(-2.00,1.26),(-1.89,1.09),(-1.79,0.95),(-1.67,0.80),(-1.55,0.66),(-1.41,0.53),
    (-1.93,2.66),(-1.86,2.52),(-1.79,2.76),(-1.74,2.90),(-1.57,2.83),(-1.64,2.62),(-1.50,2.66),
    (-1.81,2.38),(-1.73,2.28),(-1.61,2.40),(-1.50,2.43),(-1.88,2.23),(-1.81,2.09),(-1.95,1.97),
    (-1.67,2.09),(-1.53,2.19),(-1.43,2.28),(-1.32,2.38),(-1.26,2.47),(-1.81,1.90),(-1.67,1.85),
    (-1.57,1.95),(-1.43,2.04),(-1.32,2.14),(-1.22,2.23),(-1.91,1.59),(-1.82,1.38),(-1.70,1.52),
    (-1.60,1.61),(-1.46,1.71),(-1.32,1.83),(-1.19,1.92),(-1.77,1.18),(-1.64,1.28),(-1.53,1.38),
    (-1.39,1.47),(-1.26,1.57),(-1.67,1.04),(-1.53,1.14),(-1.39,1.23),(-1.26,1.33),(-1.57,0.90),
    (-1.43,0.99),(-1.29,1.09),(-1.43,0.73),(-1.29,0.85),(-1.19,0.95),(-1.26,0.56),(-1.15,0.66),
    (-1.08,0.42),(-1.08,0.75),
    # bottom-right arcs
    (3.92,2.72),(3.79,2.43),(3.65,2.14),(3.50,1.85),(3.33,1.58),(3.14,1.30),(2.92,1.04),
    (2.65,0.79),(3.24,2.96),(3.14,2.67),(2.83,2.96),(2.65,2.44),(2.55,2.18),(2.92,2.13),
    (2.79,1.86),(2.65,1.61),(2.50,1.36),(2.32,1.11),(2.13,0.88),(1.91,0.67),(1.65,0.48),
    (2.13,2.67),(2.32,2.26),(2.24,2.01),(2.45,1.93),(2.32,1.70),(2.20,1.45),(2.06,1.22),
    (1.93,1.02),(1.75,0.80),(1.55,0.61),(1.32,0.28),(1.96,2.88),(1.93,2.66),(1.81,2.57),
    (1.91,2.33),(1.82,2.23),(1.91,2.00),(1.79,1.90),(1.91,1.69),(2.03,1.57),(1.82,1.47),
    (1.91,1.33),(1.79,1.18),(1.91,1.02),(1.65,0.95),(1.74,0.79),(1.53,2.86),(1.58,2.66),
    (1.51,2.57),(1.41,2.43),(1.55,2.38),(1.61,2.23),(1.68,2.14),(1.44,2.23),(1.30,2.14),
    (1.48,2.04),(1.65,2.00),(1.37,1.90),(1.55,1.81),(1.68,1.76),(1.27,1.71),(1.44,1.61),
    (1.58,1.47),(1.34,1.47),(1.51,1.33),(1.65,1.23),(1.30,1.28),(1.44,1.14),(1.58,1.04),
    (1.37,0.95),(1.51,0.85),(1.34,0.75),(1.51,0.61),(1.34,0.47),(1.23,0.42),(1.17,0.23),
    (1.13,2.86),(1.23,2.71),(1.17,2.52),(1.27,2.33),(1.13,2.28),(1.08,2.00),(1.12,1.75),
    (1.08,1.45),(1.14,1.20),(1.08,0.95),(1.12,0.70),
]

thymus_core = [
    (-1.04,6.55),(-0.90,6.68),(-0.75,6.52),(-0.60,6.66),(-0.45,6.50),(-0.30,6.66),(-0.18,6.50),
    (-0.13,6.40),(-0.12,5.30),(-0.08,4.20),(-0.04,3.00),(-0.02,2.00),(0.00,1.10),(0.02,1.10),
    (0.04,2.00),(0.055,3.00),(0.08,4.20),(0.10,5.30),(0.13,6.35),(0.26,6.45),(0.40,6.32),
    (0.55,6.46),(0.70,6.32),(0.85,6.45),(1.05,6.38),(1.05,0.10),(0.61,0.04),(0.33,-0.08),
    (0.00,-0.13),(-0.43,-0.10),(-0.67,-0.03),(-0.98,0.06),(-1.26,0.23),(-1.30,1.00),
    (-1.33,2.00),(-1.30,2.95),(-1.04,3.05),
]
# dense block of points just under the flat row near y = 14
thymus_blocks = [[
    (0.12,14.02),(1.02,14.02),(1.02,13.50),(0.85,13.60),(0.70,13.62),(0.50,13.50),
    (0.35,13.30),(0.20,13.12),(0.12,13.30),
]]

x_ticks = [-4, -2, -1, 0, 1, 2, 4]
x_tick_labels = ['\u22124', '\u22122', '\u22121', '0', '1', '2', '4']
y_ticks = [0, 3, 5, 10, 15]


def xy(pairs):
    a = np.array(pairs, dtype=float)
    return a[:, 0], a[:, 1]


def draw_panel(ax, title, title_y, grey, core, blocks, up, down, counts):
    ax.set_xlim(-5.4, 5.4)
    ax.set_ylim(-0.64, 16.64)

    for poly in [core] + blocks:
        px, py = xy(poly)
        ax.fill(px, py, color=GREY, lw=0, zorder=2)
    gx, gy = xy(grey)
    ax.scatter(gx, gy, s=DOT, c=GREY, lw=0, zorder=2)
    dx, dy = xy(down)
    ax.scatter(dx, dy, s=DOT, c=GREEN, lw=0, zorder=3)
    ux, uy = xy(up)
    ax.scatter(ux, uy, s=DOT, c=RED, lw=0, zorder=3)

    dash = (0, (1.8, 5.0, 6.8, 5.0))
    ax.axhline(3, color='black', lw=1.0, ls=dash, zorder=4)
    ax.axvline(1, color='black', lw=1.4, ls=dash, zorder=4)
    ax.axvline(-1, color='#d2d2d2', lw=0.5, ls=dash, zorder=4)

    ax.set_xticks(x_ticks)
    ax.set_xticklabels(x_tick_labels)
    ax.set_yticks(y_ticks)
    ax.tick_params(axis='both', length=8.6, width=0.7, labelsize=16.5)
    ax.tick_params(axis='x', pad=10.2)
    ax.tick_params(axis='y', pad=7.6)
    for lab in ax.get_yticklabels():
        lab.set_rotation(90)
        lab.set_va('center')
    for sp in ax.spines.values():
        sp.set_linewidth(0.7)

    ax.set_xlabel('log2(Fold change)', fontsize=14.5, va='baseline')
    ax.xaxis.set_label_coords(0.5, -0.1408)
    ax.set_ylabel('\u2212log10(Qvalue)', fontsize=14.5, va='center')
    ax.yaxis.set_label_coords(-0.124, 0.5)
    ax.text(0.5, title_y, title, transform=ax.transAxes, ha='center',
            va='baseline', fontsize=21.5)

    # legend box in the top right corner
    ax.add_patch(Rectangle((0.7375, 0.8851), 0.2625, 0.1149, transform=ax.transAxes,
                           facecolor='#EEF6F7', edgecolor='black', lw=0.7,
                           zorder=5, clip_on=False))
    ax.scatter([0.7643, 0.7643], [0.960, 0.9227], s=DOT, c=[RED, GREEN], lw=0,
               transform=ax.transAxes, zorder=6, clip_on=False)
    ax.text(0.7904, 0.960, 'gene up:%d' % counts[0], transform=ax.transAxes,
            va='center', fontsize=14, zorder=6)
    ax.text(0.7904, 0.9227, 'gene down:%d' % counts[1], transform=ax.transAxes,
            va='center', fontsize=14, zorder=6)


fig = plt.figure(figsize=(16.905, 8.25), dpi=200)
axA = fig.add_axes([0.0787, 0.1358, 0.4079, 0.7488])
axB = fig.add_axes([0.5794, 0.1358, 0.4079, 0.7488])

draw_panel(axA, 'Spleen', 1.0376, spleen_grey, spleen_core, spleen_blocks,
           spleen_up, spleen_down, spleen_counts)
draw_panel(axB, 'Thymus', 1.0247, thymus_grey, thymus_core, thymus_blocks,
           thymus_up, thymus_down, thymus_counts)

fig.text(0.016, 0.9203, 'A', fontsize=43, fontweight='bold', va='baseline')
fig.text(0.518, 0.9203, 'B', fontsize=43, fontweight='bold', va='baseline')

fig.savefig('out.png', dpi=200)
